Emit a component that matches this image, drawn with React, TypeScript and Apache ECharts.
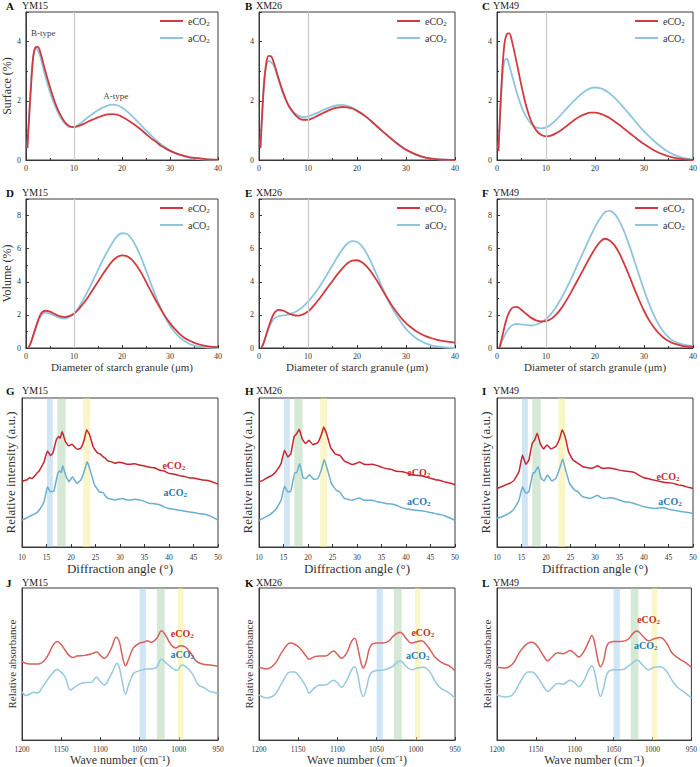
import * as echarts from "echarts";
import { useEffect, useRef } from "react";

const FONT = "Liberation Serif, Times New Roman, serif";

const panelLetters = ["A", "B", "C", "D", "E", "F", "G", "H", "I", "J", "K", "L"];
const cultivars = ["YM15", "XM26", "YM49"];

// granule size (µm) for surface distribution
const surfaceX = [0.3, 1, 1.5, 2, 2.5, 3, 4, 5, 6, 7, 8, 9, 10, 11, 12, 13, 14, 15, 16, 17, 18, 19, 20, 21, 22, 23, 24, 25, 26, 27, 28, 29, 30, 32, 34, 36, 38, 40];
const surfaceE = [
  [0.4, 2.3, 3.45, 3.8, 3.82, 3.64, 3.03, 2.47, 1.97, 1.58, 1.3, 1.15, 1.11, 1.15, 1.22, 1.3, 1.37, 1.44, 1.5, 1.54, 1.55, 1.53, 1.46, 1.37, 1.26, 1.15, 1.02, 0.88, 0.74, 0.63, 0.49, 0.4, 0.31, 0.18, 0.1, 0.06, 0.02, 0.01],
  [0.4, 2.5, 3.3, 3.52, 3.5, 3.3, 2.75, 2.25, 1.85, 1.6, 1.43, 1.36, 1.36, 1.42, 1.5, 1.58, 1.66, 1.73, 1.77, 1.79, 1.78, 1.74, 1.66, 1.56, 1.44, 1.3, 1.15, 1.0, 0.86, 0.72, 0.58, 0.46, 0.35, 0.19, 0.08, 0.03, 0.01, 0],
  [0.3, 2.8, 3.9, 4.25, 4.28, 4.05, 3.3, 2.5, 1.8, 1.3, 1.0, 0.85, 0.8, 0.82, 0.9, 1.0, 1.12, 1.25, 1.38, 1.48, 1.55, 1.6, 1.6, 1.57, 1.5, 1.42, 1.3, 1.18, 1.05, 0.92, 0.79, 0.66, 0.54, 0.33, 0.18, 0.08, 0.03, 0],
];
const surfaceA = [
  [0.4, 2.5, 3.45, 3.82, 3.7, 3.5, 2.85, 2.3, 1.85, 1.5, 1.25, 1.12, 1.11, 1.2, 1.32, 1.45, 1.57, 1.68, 1.77, 1.84, 1.87, 1.85, 1.77, 1.65, 1.5, 1.34, 1.17, 1.0, 0.84, 0.69, 0.55, 0.43, 0.33, 0.18, 0.08, 0.03, 0.01, 0],
  [0.5, 2.6, 3.2, 3.35, 3.3, 3.2, 2.7, 2.2, 1.85, 1.63, 1.5, 1.45, 1.47, 1.53, 1.6, 1.68, 1.75, 1.81, 1.85, 1.86, 1.83, 1.77, 1.68, 1.57, 1.44, 1.3, 1.15, 1.0, 0.85, 0.71, 0.57, 0.45, 0.34, 0.18, 0.08, 0.03, 0.01, 0],
  [0.4, 2.6, 3.35, 3.42, 3.2, 2.9, 2.3, 1.8, 1.45, 1.22, 1.1, 1.07, 1.1, 1.2, 1.35, 1.52, 1.7, 1.88, 2.05, 2.2, 2.33, 2.42, 2.45, 2.43, 2.36, 2.25, 2.1, 1.93, 1.74, 1.55, 1.35, 1.15, 0.97, 0.65, 0.38, 0.18, 0.07, 0.01],
];

// granule size (µm) for volume distribution
const volumeX = [0.5, 1, 2, 3, 4, 5, 6, 7, 8, 9, 10, 11, 12, 13, 14, 15, 16, 17, 18, 19, 20, 21, 22, 23, 24, 25, 26, 27, 28, 29, 30, 31, 32, 33, 34, 35, 36, 38, 40];
const volumeE = [
  [0, 0.3, 1.2, 2.0, 2.25, 2.2, 2.05, 1.92, 1.87, 1.92, 2.07, 2.35, 2.7, 3.1, 3.55, 4.0, 4.45, 4.87, 5.25, 5.5, 5.6, 5.55, 5.35, 5.0, 4.55, 4.0, 3.45, 2.9, 2.4, 1.9, 1.5, 1.15, 0.85, 0.62, 0.45, 0.32, 0.22, 0.1, 0.05],
  [0, 0.35, 1.3, 2.05, 2.3, 2.25, 2.1, 1.98, 1.95, 2.03, 2.2, 2.5, 2.85, 3.25, 3.65, 4.05, 4.45, 4.8, 5.1, 5.28, 5.3, 5.18, 4.92, 4.55, 4.1, 3.6, 3.1, 2.62, 2.2, 1.82, 1.5, 1.25, 1.03, 0.86, 0.72, 0.61, 0.52, 0.4, 0.33],
  [0, 0.6, 1.8, 2.4, 2.48, 2.3, 2.05, 1.82, 1.67, 1.6, 1.62, 1.75, 2.0, 2.35, 2.8, 3.3, 3.85, 4.4, 4.95, 5.5, 6.0, 6.4, 6.6, 6.5, 6.2, 5.7, 5.05, 4.35, 3.6, 2.9, 2.25, 1.7, 1.25, 0.9, 0.62, 0.42, 0.28, 0.12, 0.06],
];
const volumeA = [
  [0, 0.3, 1.15, 1.85, 2.12, 2.08, 1.95, 1.82, 1.78, 1.88, 2.07, 2.45, 2.95, 3.5, 4.1, 4.7, 5.3, 5.85, 6.35, 6.75, 6.93, 6.9, 6.6, 6.1, 5.45, 4.7, 3.9, 3.15, 2.45, 1.85, 1.35, 0.95, 0.65, 0.42, 0.26, 0.15, 0.08, 0.02, 0],
  [0, 0.35, 1.2, 1.75, 1.92, 1.97, 2.02, 2.12, 2.28, 2.5, 2.8, 3.15, 3.55, 4.0, 4.5, 5.0, 5.5, 5.95, 6.3, 6.45, 6.4, 6.15, 5.7, 5.1, 4.45, 3.75, 3.1, 2.5, 2.0, 1.55, 1.15, 0.85, 0.6, 0.42, 0.28, 0.18, 0.11, 0.03, 0],
  [0, 0.4, 1.0, 1.35, 1.45, 1.43, 1.38, 1.36, 1.42, 1.55, 1.75, 2.05, 2.45, 2.95, 3.5, 4.1, 4.75, 5.4, 6.05, 6.7, 7.3, 7.8, 8.2, 8.28, 8.1, 7.65, 7.0, 6.2, 5.3, 4.4, 3.5, 2.7, 2.0, 1.42, 0.98, 0.65, 0.42, 0.2, 0.12],
];

// XRD: [2θ, relative intensity]
const xrdE = [
  [[10, 43.8], [10.5, 44.6], [11, 45], [11.5, 46.5], [12, 46], [12.5, 47.4], [13, 49.4], [13.5, 51], [14, 54], [14.5, 57], [14.8, 60.7], [15.2, 64.5], [15.8, 61.3], [16.3, 63], [17, 72], [17.5, 74.2], [17.8, 73], [18.2, 77.5], [18.8, 71.2], [19.5, 67.9], [20.2, 69], [21, 66.3], [21.5, 65.6], [22, 66.3], [22.7, 72], [23.2, 78.7], [23.8, 75.3], [24.5, 67.4], [25, 64.8], [25.5, 63], [26, 62.4], [26.5, 60.7], [27, 59.6], [27.5, 57.8], [28.2, 57.3], [29, 56.2], [29.7, 56.9], [30.5, 56.6], [31.2, 55.7], [32, 55.5], [33, 55.8], [34, 55], [35, 54.4], [36, 53.5], [37, 53.2], [38, 51.7], [39, 51], [40, 49.4], [41, 49], [42, 47.9], [43, 47.5], [44, 46.5], [45, 46.3], [46, 45.6], [47, 44.9], [48, 44.7], [49, 43.5], [50, 42.2]],
  [[10, 43.6], [11, 45.1], [12, 47], [12.8, 48.4], [13.5, 50.8], [14.5, 56], [15.2, 64.9], [15.9, 60.4], [16.5, 62.6], [17.2, 74.5], [17.7, 76], [18.2, 79], [18.8, 72.7], [19.5, 69.4], [20.2, 71.6], [21, 68.7], [22, 70], [22.8, 76], [23.2, 80.5], [23.8, 76], [24.6, 67], [25.5, 62.6], [26.5, 61.5], [27, 59.4], [27.5, 57.5], [28.2, 56.6], [29, 55.3], [29.8, 56], [30.5, 57], [31.2, 55.9], [32, 55.3], [33, 55.5], [34, 54.8], [35, 53.6], [36, 52.6], [37, 52.1], [38, 50.8], [39, 50.6], [40, 49.9], [41, 48.7], [42, 48.1], [43, 47.8], [44, 47], [45, 46.1], [46, 45.2], [47, 44.6], [48, 43.6], [49, 42.9], [50, 41.8]],
  [[10, 39.3], [11, 40.6], [12, 42], [12.8, 43.1], [13.5, 44.9], [14.5, 50.6], [15.2, 61.8], [15.9, 55.5], [16.5, 58.4], [17.2, 69.7], [17.7, 71.9], [18.2, 76.4], [18.8, 69.7], [19.5, 65.8], [20.2, 68.5], [21, 65.8], [22, 67.4], [22.8, 73], [23.3, 78.7], [23.9, 74.2], [24.6, 64], [25.5, 58.4], [26.5, 56.2], [27, 55.1], [27.5, 53.9], [28.2, 53.4], [29, 52.8], [29.8, 53.4], [30.5, 54.6], [31.2, 53.2], [32, 52.8], [33, 53.1], [34, 52.4], [35, 51.6], [36, 51], [37, 50.7], [38, 50.1], [39, 48.1], [40, 46.5], [41, 45.8], [42, 44.9], [43, 44.2], [44, 43.4], [45, 43.1], [46, 42.7], [47, 41.7], [48, 41.1], [49, 40.1], [50, 39.3]],
];
const xrdA = [
  [[10, 18], [11, 19.6], [12, 21.3], [12.8, 22.6], [13.5, 24.7], [14.5, 30.3], [15.2, 40.4], [15.8, 37], [16.5, 37.5], [17.3, 49.4], [17.7, 51], [18, 50], [18.3, 54.6], [19, 47.2], [19.6, 43.8], [20.3, 47.2], [21.2, 42.7], [22, 44.9], [22.8, 51.7], [23.3, 57.3], [24, 50.6], [24.8, 41.6], [25.8, 37], [26.5, 36.6], [27, 34.4], [27.5, 32.6], [28.2, 32.1], [29, 31.5], [29.8, 32.2], [30.5, 32.6], [31.2, 31.7], [32, 31.5], [33, 32], [34, 31.5], [35, 30.6], [36, 29.2], [37, 29.1], [38, 28.5], [39, 26.9], [40, 25.8], [41, 25.3], [42, 24.7], [43, 24.2], [44, 23.6], [45, 23.1], [46, 22.5], [47, 22.1], [48, 21.3], [49, 19.9], [50, 18]],
  [[10, 17.9], [11, 19.5], [12, 21.3], [12.8, 23.2], [13.5, 25.7], [14.5, 31.3], [15.2, 40.7], [15.9, 36.9], [16.5, 37.4], [17.3, 49.9], [17.7, 49.9], [18.3, 55.9], [19, 46.3], [19.6, 45.9], [20.3, 48.5], [21.2, 45.4], [22, 45.9], [22.8, 52.6], [23.3, 58.8], [24, 51.5], [24.8, 42.5], [25.8, 38], [26.5, 36.9], [27, 34.3], [27.5, 32.4], [28.2, 31.9], [29, 31.3], [29.8, 32.3], [30.5, 32.9], [31.2, 31.6], [32, 31.3], [33, 31.4], [34, 30.6], [35, 29.9], [36, 29.1], [37, 28.8], [38, 28], [39, 26.6], [40, 25.7], [41, 25.2], [42, 24.6], [43, 24.4], [44, 23.9], [45, 23.1], [46, 22.4], [47, 21.8], [48, 20.8], [49, 19.5], [50, 17.9]],
  [[10, 19.1], [11, 20.3], [12, 21.8], [12.8, 23.4], [13.5, 25.8], [14.5, 31.5], [15.2, 40.4], [15.9, 36], [16.5, 37.1], [17.3, 49.4], [17.7, 50.1], [18.4, 53.9], [19, 46.1], [19.6, 44.3], [20.3, 48.3], [21.2, 44.3], [22, 46.1], [22.8, 52.8], [23.4, 59.1], [24, 51.7], [24.8, 42.7], [25.8, 38.2], [26.5, 37.1], [27, 35.2], [27.5, 33.7], [28.2, 33.2], [29, 32.6], [29.8, 33.6], [30.5, 34.8], [31.2, 33.1], [32, 32.6], [33, 33], [34, 32.6], [35, 31.5], [36, 30.3], [37, 30], [38, 29.2], [39, 28.1], [40, 27], [41, 26.4], [42, 25.8], [43, 26.1], [44, 26.3], [45, 25.4], [46, 24.7], [47, 24.2], [48, 23.6], [49, 23.1], [50, 22.5]],
];

// FTIR: [wave number, relative absorbance]
const ftirE = [
  [[1200, 51.5], [1190, 50], [1180, 50], [1170, 53.2], [1160, 62.8], [1155, 64.9], [1150, 62.8], [1145, 59.1], [1140, 55.7], [1135, 54.3], [1130, 55.3], [1120, 55.7], [1110, 57], [1105, 57.9], [1100, 55.7], [1095, 53.6], [1090, 56.4], [1085, 61.7], [1080, 67.7], [1076, 64.9], [1072, 55.3], [1068, 48.9], [1064, 53.2], [1058, 60.6], [1050, 63.8], [1045, 64.3], [1040, 65.3], [1035, 64.3], [1028, 67], [1022, 71.9], [1016, 68.1], [1010, 62.8], [1004, 60.6], [998, 62.1], [992, 61.3], [985, 57.4], [978, 52.1], [970, 50], [960, 49.4], [950, 48.5]],
  [[1200, 47.9], [1190, 46.8], [1180, 50], [1170, 58.5], [1160, 63.8], [1155, 63.2], [1148, 60.6], [1140, 55.3], [1136, 53.2], [1130, 54.7], [1122, 55.3], [1115, 55.3], [1105, 58.5], [1100, 56.4], [1095, 53.8], [1088, 57.4], [1082, 64.9], [1078, 67], [1074, 60.6], [1070, 51.1], [1067, 47.4], [1063, 52.1], [1058, 61.7], [1050, 63.8], [1042, 63.8], [1035, 64.9], [1028, 68.7], [1020, 70.9], [1012, 66.6], [1006, 63.8], [1000, 64.5], [993, 65.3], [985, 61.7], [975, 54.3], [965, 50.4], [958, 48.9], [950, 45.7]],
  [[1200, 47.9], [1190, 47.4], [1180, 50], [1170, 58.5], [1160, 63.8], [1155, 64.3], [1148, 61.7], [1140, 55.3], [1135, 52.1], [1130, 54.3], [1122, 57.4], [1115, 56.8], [1106, 58.9], [1100, 56.8], [1095, 54.7], [1088, 58.5], [1082, 64.9], [1078, 68.7], [1074, 62.8], [1070, 52.1], [1067, 48.3], [1063, 52.1], [1058, 62.8], [1050, 64.9], [1040, 64.9], [1032, 66], [1025, 70.2], [1020, 71.7], [1012, 68.1], [1005, 65.3], [998, 66.6], [990, 67.4], [982, 63.8], [975, 57.4], [965, 53.2], [958, 51.1], [950, 47.9]],
];
const ftirA = [
  [[1200, 31.9], [1195, 29.4], [1190, 30.2], [1185, 31.5], [1180, 30.9], [1175, 34], [1165, 41.5], [1158, 45.7], [1155, 46.4], [1150, 44.7], [1145, 41.5], [1138, 33], [1132, 35.1], [1125, 37.2], [1118, 37.9], [1112, 37.9], [1105, 41.5], [1100, 38.3], [1095, 36.2], [1088, 41.5], [1082, 47.9], [1079, 50.6], [1076, 47.9], [1072, 38.3], [1068, 30.2], [1064, 36.2], [1058, 43.6], [1050, 45.7], [1040, 46.8], [1030, 47.2], [1022, 53.2], [1016, 50.6], [1008, 47.2], [1002, 45.7], [996, 49.4], [990, 47.9], [982, 43], [975, 36.2], [968, 34.5], [960, 31.9], [955, 31.5], [950, 30.2]],
  [[1200, 29.8], [1190, 27.7], [1180, 29.8], [1170, 38.3], [1160, 44.7], [1155, 44.7], [1148, 41.5], [1140, 35.1], [1136, 30.9], [1130, 34], [1122, 36.2], [1115, 36.2], [1105, 39.4], [1100, 37.7], [1095, 34.7], [1088, 39.4], [1082, 46.2], [1078, 48.3], [1074, 42.6], [1070, 31.9], [1067, 28.7], [1063, 34], [1058, 43.6], [1050, 45.7], [1040, 46.2], [1030, 48.3], [1020, 52.1], [1012, 48.3], [1005, 46.2], [998, 47.4], [990, 47.9], [982, 44.7], [975, 38.3], [968, 34], [960, 31.9], [950, 27.7]],
  [[1200, 29.8], [1190, 28.3], [1180, 29.8], [1170, 38.3], [1160, 44.7], [1155, 44.7], [1148, 41.5], [1140, 35.1], [1135, 31.9], [1130, 34], [1122, 37.2], [1115, 36.8], [1106, 39.4], [1100, 37.7], [1095, 35.1], [1088, 39.4], [1082, 46.2], [1078, 48.9], [1074, 43.6], [1070, 33], [1067, 28.7], [1063, 34], [1058, 44], [1050, 46.2], [1040, 46.2], [1030, 48.9], [1020, 52.6], [1012, 48.9], [1005, 46.2], [998, 47.9], [990, 48.3], [982, 45.3], [975, 39.4], [968, 34.7], [960, 31.9], [950, 27.7]],
];

// highlighted bands
const xrdBands = [[15.1, 16.3], [17.2, 18.9], [22.5, 23.9]];
const ftirBands = [[1050, 1042], [1028, 1018], [1001, 994]];

// where the eCO2 / aCO2 tags sit, in data units
const xrdTagE = [[41, 55], [42.6, 50], [44.9, 47.5]];
const xrdTagA = [[41.3, 36.6], [42.6, 30.4], [45.3, 30.5]];
const ftirTagE = [[995.5, 70], [991, 70.5], [1005, 79]];
const ftirTagA = [[995.5, 56], [997.6, 55.5], [1008.8, 62]];

const RED = "#d33a40";
const BLUE = "#8fc6de";
const BAND_COLORS = ["rgba(150,200,232,0.45)", "rgba(165,205,165,0.45)", "rgba(245,235,130,0.45)"];

const colLeft = [22, 259, 497];
const colWidth = 196;
const rowTop = [12, 199, 398, 588];
const rowHeight = [148, 149, 149, 157];
const titleTop = [0, 187, 385, 577];
const letterX = [6, 245, 482];
const letterW = [16, 11, 11];

const co2Rich = {
  n: { fontFamily: FONT, fontSize: 10, color: "#333" },
  s: { fontFamily: FONT, fontSize: 7, color: "#333", padding: [5, 0, 0, 0] },
};

const co2Text = (name: string) => (name.startsWith("e") ? "{n|eCO}{s|2}" : "{n|aCO}{s|2}");

const tag = (coord: number[], name: string, color: string) => ({
  symbol: "rect",
  symbolSize: 1,
  itemStyle: { color: "transparent" },
  silent: true,
  label: {
    show: true,
    position: "inside",
    formatter: co2Text(name),
    color,
    fontWeight: "bold",
    rich: {
      n: { fontFamily: FONT, fontSize: 10, fontWeight: "bold", color },
      s: { fontFamily: FONT, fontSize: 7, fontWeight: "bold", color, padding: [5, 0, 0, 0] },
    },
  },
  data: [{ coord }],
});

const zip = (xs: number[], ys: number[]) => xs.map((x, i) => [x, ys[i]]);

export default function App() {
  const chartRef = useRef<HTMLDivElement>(null);

  useEffect(() => {
    if (!chartRef.current) return;
    const chart = echarts.init(chartRef.current, undefined, { renderer: "svg" });

    const grid: any[] = [];
    const xAxis: any[] = [];
    const yAxis: any[] = [];
    const series: any[] = [];
    const legend: any[] = [];
    const title: any[] = [];
    const later: any[] = [];

    const tickStyle = { color: "#333" };
    const axisLabel = {
      fontFamily: FONT,
      fontSize: 8,
      color: "#333",
      formatter: (v: number) => String(v),
    };

    for (let i = 0; i < 12; i++) {
      const r = Math.floor(i / 3);
      const c = i % 3;

      grid.push({
        left: colLeft[c],
        top: rowTop[r],
        width: colWidth,
        height: rowHeight[r],
        show: true,
        borderColor: "#3a3a3a",
        borderWidth: 1,
      });

      title.push({
        text: `{l|${panelLetters[i]}}{n|${cultivars[c]}}`,
        left: letterX[c],
        top: titleTop[r],
        padding: 0,
        textStyle: {
          fontWeight: "normal",
          rich: {
            l: { fontFamily: FONT, fontWeight: "bold", fontSize: 11, width: letterW[c], color: "#111" },
            n: { fontFamily: FONT, fontWeight: "normal", fontSize: 10, color: "#222" },
          },
        },
      });

      const xBase: any = {
        gridIndex: i,
        type: "value",
        splitLine: { show: false },
        axisLine: { show: true, lineStyle: { color: "#3a3a3a" } },
        axisTick: { inside: true, length: 3, lineStyle: tickStyle },
        nameLocation: "middle",
      };
      const yBase: any = {
        gridIndex: i,
        type: "value",
        splitLine: { show: false },
        axisLine: { show: true, lineStyle: { color: "#3a3a3a" } },
        nameLocation: "middle",
        nameRotate: 90,
      };

      if (r < 2) {
        xAxis.push({
          ...xBase,
          min: 0,
          max: 40,
          interval: 10,
          minorTick: { show: true, splitNumber: 2, length: 2, lineStyle: tickStyle },
          axisLabel: { ...axisLabel, margin: 4 },
          name: r === 1 ? "Diameter of starch granule (μm)" : "",
          nameGap: 13,
          nameTextStyle: { fontFamily: FONT, fontSize: 11, color: "#333" },
        });
        yAxis.push({
          ...yBase,
          min: 0,
          max: r === 0 ? 5 : 9,
          interval: 2,
          axisTick: { inside: true, length: 3, lineStyle: tickStyle },
          minorTick: { show: true, splitNumber: 2, length: 2, lineStyle: tickStyle },
          axisLabel: { ...axisLabel, margin: 5, showMaxLabel: false },
          name: c === 0 ? (r === 0 ? "Surface (%)" : "Volume (%)") : "",
          nameGap: 11,
          nameTextStyle: { fontFamily: FONT, fontSize: 12, color: "#333" },
        });

        const ex = r === 0 ? surfaceX : volumeX;
        const eY = r === 0 ? surfaceE[c] : volumeE[c];
        const aY = r === 0 ? surfaceA[c] : volumeA[c];

        const lineCommon = {
          type: "line",
          xAxisIndex: i,
          yAxisIndex: i,
          symbol: "none",
          showSymbol: false,
          smooth: 0.35,
        };
        const eSeries: any = {
          ...lineCommon,
          name: "eCO2",
          data: zip(ex, eY),
          z: 3,
          lineStyle: { color: RED, width: 1.8 },
          itemStyle: { color: RED },
        };
        const aSeries: any = {
          ...lineCommon,
          name: "aCO2",
          data: zip(ex, aY),
          z: 2,
          lineStyle: { color: BLUE, width: 1.8 },
          itemStyle: { color: BLUE },
          markLine: {
            silent: true,
            symbol: "none",
            label: { show: false },
            lineStyle: { color: "#cacaca", width: 1.2, type: "solid" },
            data: [{ xAxis: 10 }],
          },
        };
        if (i === 0) {
          eSeries.markPoint = {
            symbol: "rect",
            symbolSize: 1,
            itemStyle: { color: "transparent" },
            silent: true,
            label: {
              show: true,
              position: "inside",
              fontFamily: FONT,
              fontSize: 9,
              color: "#444",
              formatter: (p: any) => p.name,
            },
            data: [
              { name: "B-type", coord: [3.6, 4.28] },
              { name: "A-type", coord: [18.7, 2.16] },
            ],
          };
        }
        series.push(eSeries, aSeries);

        legend.push({
          data: ["eCO2", "aCO2"],
          orient: "vertical",
          left: colLeft[c] + 138,
          top: rowTop[r] + 4,
          icon: "rect",
          itemWidth: 23,
          itemHeight: 2,
          itemGap: 6,
          padding: 0,
          formatter: co2Text,
          textStyle: { color: "#333", fontFamily: FONT, fontSize: 10, rich: co2Rich },
        });
      } else {
        const xrd = r === 2;
        xAxis.push({
          ...xBase,
          min: xrd ? 10 : 950,
          max: xrd ? 50 : 1200,
          interval: xrd ? 5 : 50,
          inverse: !xrd,
          axisLabel: { ...axisLabel, fontSize: 7.5, margin: xrd ? 6 : 5 },
          name: xrd ? "Diffraction angle (°)" : "Wave number (cm⁻¹)",
          nameGap: xrd ? 15 : 13,
          nameTextStyle: { fontFamily: FONT, fontSize: xrd ? 13 : 12, color: "#333" },
        });
        yAxis.push({
          ...yBase,
          min: 0,
          max: 100,
          axisTick: { show: false },
          axisLabel: { show: false },
          name: xrd ? "Relative intensity (a.u.)" : "Relative absorbance",
          nameGap: 5,
          nameTextStyle: { fontFamily: FONT, fontSize: xrd ? 13 : 11, color: "#333" },
        });

        const bands = xrd ? xrdBands : ftirBands;
        later.push({
          type: "line",
          name: "band",
          xAxisIndex: i,
          yAxisIndex: i,
          data: [],
          z: 1,
          silent: true,
          markArea: {
            silent: true,
            data: bands.map((b, k) => [
              { xAxis: b[0], itemStyle: { color: BAND_COLORS[k] } },
              { xAxis: b[1] },
            ]),
          },
        });

        const redC = xrd ? "#c92530" : "#d8605c";
        const blueC = xrd ? "#6aafd2" : "#97c9de";
        const common = {
          type: "line",
          xAxisIndex: i,
          yAxisIndex: i,
          symbol: "none",
          showSymbol: false,
          smooth: xrd ? 0.1 : 0.4,
          z: 3,
        };
        later.push(
          {
            ...common,
            name: "eCO2 " + (xrd ? "XRD" : "FTIR"),
            data: xrd ? xrdE[c] : ftirE[c],
            lineStyle: { color: redC, width: 1.5 },
            itemStyle: { color: redC },
            markPoint: tag(xrd ? xrdTagE[c] : ftirTagE[c], "eCO2", "#c4302c"),
          },
          {
            ...common,
            name: "aCO2 " + (xrd ? "XRD" : "FTIR"),
            data: xrd ? xrdA[c] : ftirA[c],
            lineStyle: { color: blueC, width: 1.5 },
            itemStyle: { color: blueC },
            markPoint: tag(xrd ? xrdTagA[c] : ftirTagA[c], "aCO2", "#2a79b0"),
          }
        );
      }
    }

    const option: any = {
      animation: false,
      backgroundColor: "#fff",
      title,
      legend,
      grid,
      xAxis,
      yAxis,
      series: [...series, ...later],
    };

    chart.setOption(option);

    return () => {
      chart.dispose();
    };
  }, []);

  return (
    <div
      ref={chartRef}
      style={{ position: "fixed", left: 0, top: 0, width: "700px", height: "767px", background: "#fff" }}
    />
  );
}
